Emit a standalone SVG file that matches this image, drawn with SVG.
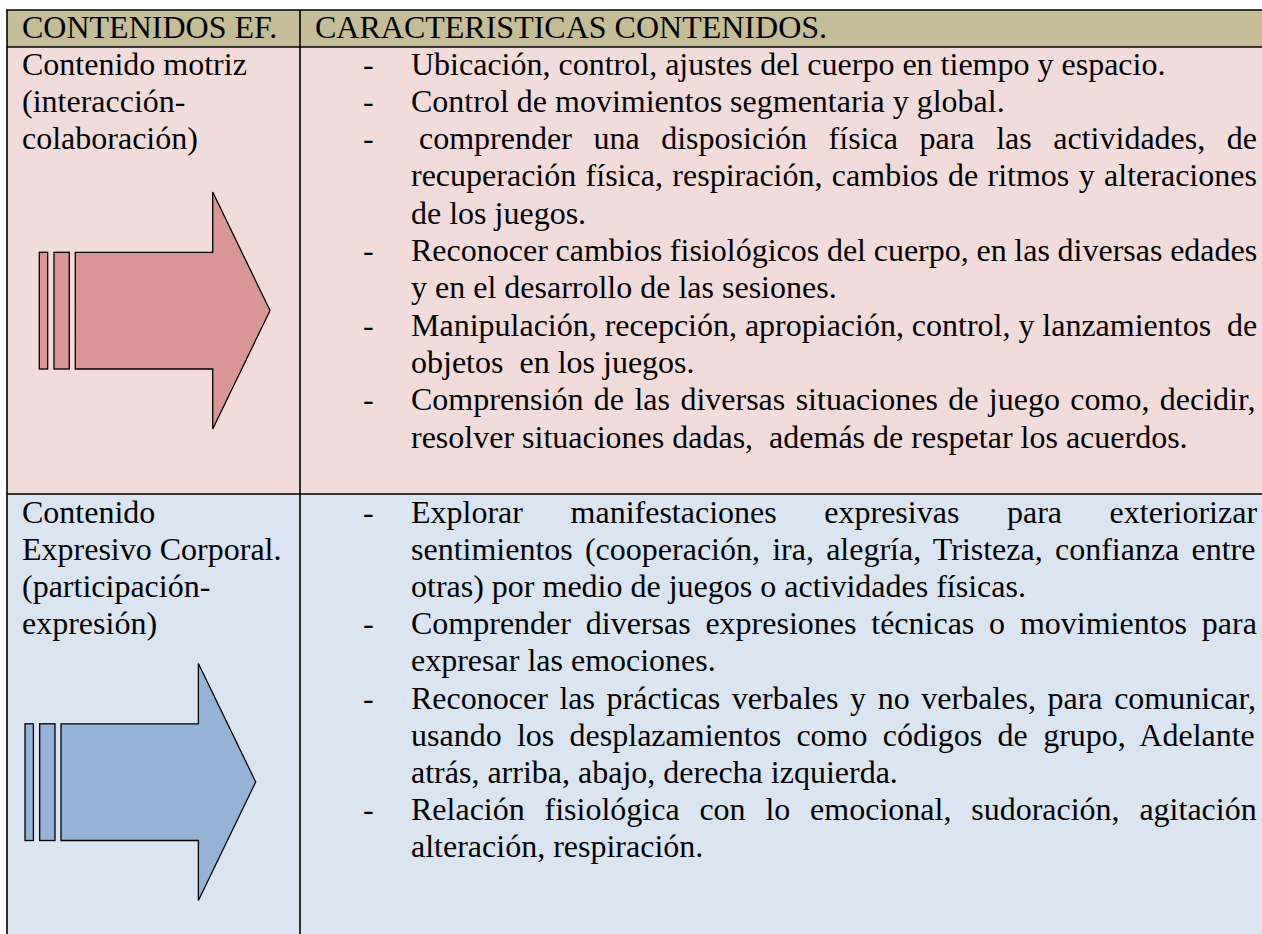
<svg xmlns="http://www.w3.org/2000/svg" width="1262" height="934" viewBox="0 0 1262 934">
<style>
.t{font-family:'Liberation Serif','Times New Roman',serif;font-size:32px;fill:#000}
.grid{stroke:#000;stroke-width:1.6;fill:none}
.arrow{stroke:#000;stroke-width:1.3;stroke-linejoin:miter}
.a1{fill:#D99694}
.a2{fill:#95B3D7}
.pre{white-space:pre}
</style>
<rect width="1262" height="934" fill="#fff"/>
<g class="t">
<g id="header">
<rect x="7" y="10" width="1255" height="37" fill="#C4BD97"/>
<text x="22" y="38">CONTENIDOS EF.</text>
<text x="315" y="38">CARACTERISTICAS CONTENIDOS.</text>
</g>
<g id="row-motriz">
<rect x="7" y="47" width="1255" height="447" fill="#F2DCDB"/>
<text x="22" y="74.5">Contenido motriz</text>
<text x="22" y="111.8">(interacción-</text>
<text x="22" y="149.1">colaboración)</text>
<g id="arrow-motriz" class="arrow a1">
<rect x="39.3" y="252.3" width="8.4" height="116.7"/>
<rect x="54" y="252.3" width="15.3" height="116.7"/>
<polygon points="75.3,252.3 212.7,252.3 212.7,192 270,310.5 212.7,429 212.7,369 75.3,369"/>
</g>
<g id="items-motriz">
<text x="363" y="74.5">-</text>
<text x="363" y="111.8">-</text>
<text x="363" y="149.1">-</text>
<text x="363" y="261">-</text>
<text x="363" y="335.6">-</text>
<text x="363" y="410.2">-</text>
<text x="411" y="74.5">Ubicación, control, ajustes del cuerpo en tiempo y espacio.</text>
<text x="411" y="111.8">Control de movimientos segmentaria y global.</text>
<text x="419" y="149.1" word-spacing="13.6">comprender una disposición física para las actividades, de</text>
<text x="411" y="186.4" word-spacing="1.4">recuperación física, respiración, cambios de ritmos y alteraciones</text>
<text x="411" y="223.7">de los juegos.</text>
<text x="411" y="261" word-spacing="-0.3">Reconocer cambios fisiológicos del cuerpo, en las diversas edades</text>
<text x="411" y="298.3">y en el desarrollo de las sesiones.</text>
<text x="411" y="335.6" class="pre" word-spacing="-0.1">Manipulación, recepción, apropiación, control, y lanzamientos  de</text>
<text x="411" y="372.9" class="pre">objetos  en los juegos.</text>
<text x="411" y="410.2" word-spacing="2.4">Comprensión de las diversas situaciones de juego como, decidir,</text>
<text x="411" y="447.5" class="pre">resolver situaciones dadas,  además de respetar los acuerdos.</text>
</g>
</g>
<g id="row-expresivo">
<rect x="7" y="494" width="1255" height="440" fill="#DBE5F1"/>
<text x="22" y="522.5">Contenido</text>
<text x="22" y="559.7">Expresivo Corporal.</text>
<text x="22" y="596.9">(participación-</text>
<text x="22" y="634.1">expresión)</text>
<g id="arrow-expresivo" class="arrow a2">
<rect x="25" y="723.8" width="8.4" height="116.7"/>
<rect x="39.7" y="723.8" width="15.3" height="116.7"/>
<polygon points="61,723.8 198.4,723.8 198.4,663.5 255.7,782 198.4,900.5 198.4,840.5 61,840.5"/>
</g>
<g id="items-expresivo">
<text x="363" y="522.5">-</text>
<text x="363" y="634.1">-</text>
<text x="363" y="708.5">-</text>
<text x="363" y="820.1">-</text>
<text x="411" y="522.5" word-spacing="39.6">Explorar manifestaciones expresivas para exteriorizar</text>
<text x="411" y="559.7" word-spacing="4.2">sentimientos (cooperación, ira, alegría, Tristeza, confianza entre</text>
<text x="411" y="596.9">otras) por medio de juegos o actividades físicas.</text>
<text x="411" y="634.1" word-spacing="6.8">Comprender diversas expresiones técnicas o movimientos para</text>
<text x="411" y="671.3">expresar las emociones.</text>
<text x="411" y="708.5" word-spacing="3.6">Reconocer las prácticas verbales y no verbales, para comunicar,</text>
<text x="411" y="745.7" word-spacing="7.3">usando los desplazamientos como códigos de grupo, Adelante</text>
<text x="411" y="782.9">atrás, arriba, abajo, derecha izquierda.</text>
<text x="411" y="820.1" word-spacing="11.8">Relación fisiológica con lo emocional, sudoración, agitación</text>
<text x="411" y="857.3">alteración, respiración.</text>
</g>
</g>
</g>
<g id="table-lines" class="grid">
<line x1="6" y1="10" x2="1262" y2="10"/>
<line x1="7" y1="47" x2="1262" y2="47"/>
<line x1="7" y1="494" x2="1262" y2="494"/>
<line x1="7" y1="10" x2="7" y2="934"/>
<line x1="300" y1="10" x2="300" y2="934"/>
</g>
</svg>
